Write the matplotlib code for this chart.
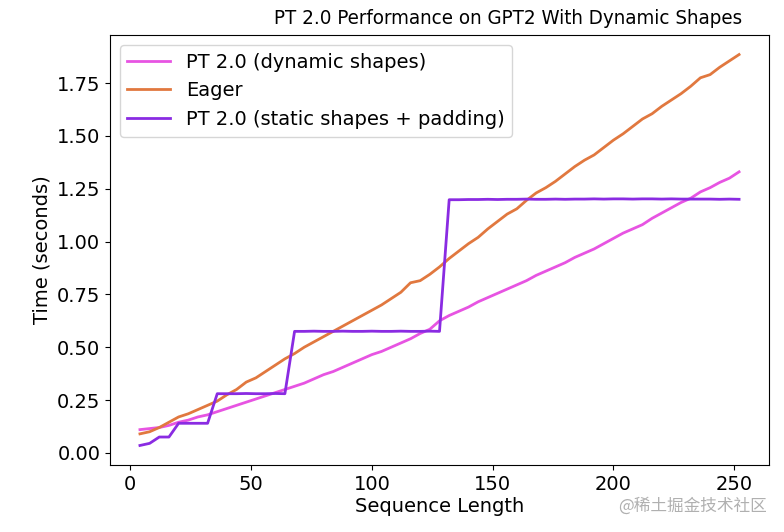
import matplotlib
matplotlib.use("Agg")
import matplotlib.pyplot as plt

seq_len = list(range(4, 253, 4))

dynamic = [0.110, 0.115, 0.120, 0.130, 0.145, 0.155, 0.170, 0.180, 0.195, 0.210,
           0.225, 0.240, 0.255, 0.270, 0.285, 0.300, 0.315, 0.330, 0.350, 0.370,
           0.385, 0.405, 0.425, 0.445, 0.465, 0.480, 0.500, 0.520, 0.540, 0.565,
           0.585, 0.625, 0.650, 0.670, 0.690, 0.715, 0.735, 0.755, 0.775, 0.795,
           0.815, 0.840, 0.860, 0.880, 0.900, 0.925, 0.945, 0.965, 0.990, 1.015,
           1.040, 1.060, 1.080, 1.110, 1.135, 1.160, 1.185, 1.205, 1.235, 1.255,
           1.280, 1.300, 1.330]

eager = [0.090, 0.100, 0.120, 0.145, 0.170, 0.185, 0.205, 0.225, 0.245, 0.275,
         0.300, 0.335, 0.355, 0.385, 0.415, 0.445, 0.470, 0.500, 0.525, 0.550,
         0.575, 0.600, 0.625, 0.650, 0.675, 0.700, 0.730, 0.760, 0.805, 0.815,
         0.845, 0.880, 0.920, 0.955, 0.990, 1.020, 1.060, 1.095, 1.130, 1.155,
         1.195, 1.230, 1.255, 1.285, 1.320, 1.355, 1.385, 1.410, 1.445, 1.480,
         1.510, 1.545, 1.580, 1.605, 1.640, 1.670, 1.700, 1.735, 1.775, 1.790,
         1.825, 1.855, 1.885]

static_pad = [0.035, 0.045, 0.075, 0.075, 0.140, 0.140, 0.140, 0.140, 0.280, 0.280,
              0.280, 0.281, 0.280, 0.280, 0.281, 0.280, 0.575, 0.575, 0.576, 0.575,
              0.575, 0.576, 0.575, 0.575, 0.576, 0.575, 0.575, 0.576, 0.575, 0.575,
              0.576, 0.575, 1.198, 1.198, 1.199, 1.199, 1.200, 1.199, 1.200, 1.200,
              1.201, 1.200, 1.200, 1.201, 1.200, 1.201, 1.201, 1.202, 1.201, 1.202,
              1.202, 1.201, 1.202, 1.202, 1.201, 1.202, 1.201, 1.201, 1.201, 1.201,
              1.200, 1.201, 1.200]

fig = plt.figure(figsize=(7.84, 5.32), dpi=100)
ax = fig.add_axes([0.1403, 0.1259, 0.8406, 0.8083])
ax.plot(seq_len, dynamic, color="#e754e2", lw=2, label="PT 2.0 (dynamic shapes)")
ax.plot(seq_len, eager, color="#e1783f", lw=2, label="Eager")
ax.plot(seq_len, static_pad, color="#8a2be2", lw=2, label="PT 2.0 (static shapes + padding)")

ax.set_title("PT 2.0 Performance on GPT2 With Dynamic Shapes", fontsize=14.7,
             fontstretch="condensed", x=0.604, pad=8)
ax.set_xlabel("Sequence Length", fontsize=14, labelpad=2)
ax.set_ylabel("Time (seconds)", fontsize=14)
ax.tick_params(labelsize=14)
ax.legend(loc="upper left", fontsize=14, handlelength=2.2)

fig.text(0.978, 0.033, "@稀土掘金技术社区", ha="right", va="bottom",
         fontsize=12, color="#b0b0b0", family=["Noto Sans CJK SC", "DejaVu Sans"])

fig.savefig("out.png", dpi=100)
